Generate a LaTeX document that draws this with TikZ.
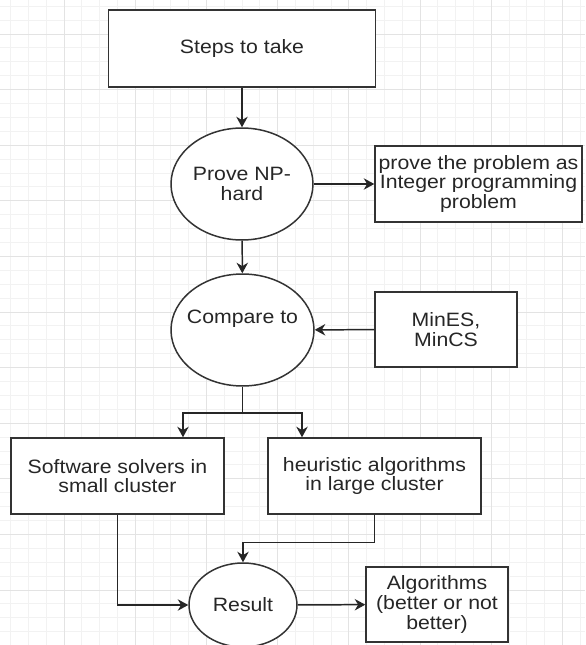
\documentclass[tikz,border=0pt]{standalone}
\usepackage{fontspec}
\setmainfont{Liberation Sans}[FakeStretch=1.1]
\usetikzlibrary{shapes.geometric,arrows.meta}

\begin{document}
\begin{tikzpicture}[x=0.02cm,y=-0.02cm,
    >={Stealth[length=6pt,width=6.5pt]},
    every node/.style={font=\fontsize{11}{11.2}\selectfont,text=black!85,align=center},
    box/.style={draw=black!80,line width=0.85pt,fill=white,rectangle,inner xsep=1pt},
    bubble/.style={draw=black!80,line width=0.85pt,fill=white,ellipse,inner xsep=-5pt,inner ysep=0pt},
    link/.style={->,draw=black!85,line width=0.85pt},
    minorgrid/.style={black!5,line width=0.5pt},
    majorgrid/.style={black!11,line width=0.5pt}]
  \useasboundingbox (0,0) rectangle (585,645);
  \fill[white] (0,0) rectangle (585,645);
  % background grid
  \def\gx{17.8}
  \def\gy{13.9}
  \foreach \i in {0,...,32} {
    \draw[minorgrid] ({10.6+\gx*\i},0) -- ({10.6+\gx*\i},645);
  }
  \foreach \j in {0,...,45} {
    \draw[minorgrid] (0,{6.2+\gy*\j}) -- (585,{6.2+\gy*\j});
  }
  \foreach \i in {1,...,8} {
    \draw[majorgrid] ({-7.2+4*\gx*\i},0) -- ({-7.2+4*\gx*\i},645);
  }
  \foreach \j in {1,...,11} {
    \draw[majorgrid] (0,{-21.6+4*\gy*\j}) -- (585,{-21.6+4*\gy*\j});
  }

  \node (steps) at (242,48.5) [box,minimum width=5.34cm,minimum height=1.54cm] {Steps to take};
  \node (nphard) at (242,184) [bubble,minimum width=2.84cm,minimum height=2.24cm] {Prove NP-\\hard};
  \node (intprog) at (478.5,184) [box,minimum width=4.14cm,minimum height=1.52cm]
        {prove the problem as\\Integer programming\\problem};
  \node (compare) at (242.5,330) [bubble,minimum width=2.86cm,minimum height=2.24cm] {Compare to\\\strut};
  \node (mines) at (446,329.5) [box,minimum width=2.84cm,minimum height=1.5cm] {MinES,\\MinCS};
  \node (solvers) at (117.5,476) [box,minimum width=4.26cm,minimum height=1.52cm]
        {Software solvers in\\small cluster};
  \node (heur) at (374.5,476) [box,minimum width=4.26cm,minimum height=1.52cm]
        {heuristic algorithms\\in large cluster};
  \node (result) at (243,605) [bubble,minimum width=2.16cm,minimum height=1.68cm] {Result};
  \node (algos) at (437,604.5) [box,minimum width=2.84cm,minimum height=1.5cm]
        {Algorithms\\(better or not\\better)};

  \draw[link] (steps) -- (nphard);
  \draw[link] (nphard) -- (intprog);
  \draw[link] (nphard) -- (compare);
  \draw[link] (mines) -- (compare);
  % split into the two cluster sizes
  \coordinate (split) at (242.5,413);
  \draw[link] (compare.south) -- (split) -| ([xshift=1.31cm]solvers.north);
  \draw[link] (split) -| ([xshift=-1.45cm]heur.north);
  \draw[link] (solvers.south) |- (result.west);
  \draw[link] (heur.south) -- ++(0,28) -| (result.north);
  \draw[link] (result) -- (algos);
\end{tikzpicture}
\end{document}
